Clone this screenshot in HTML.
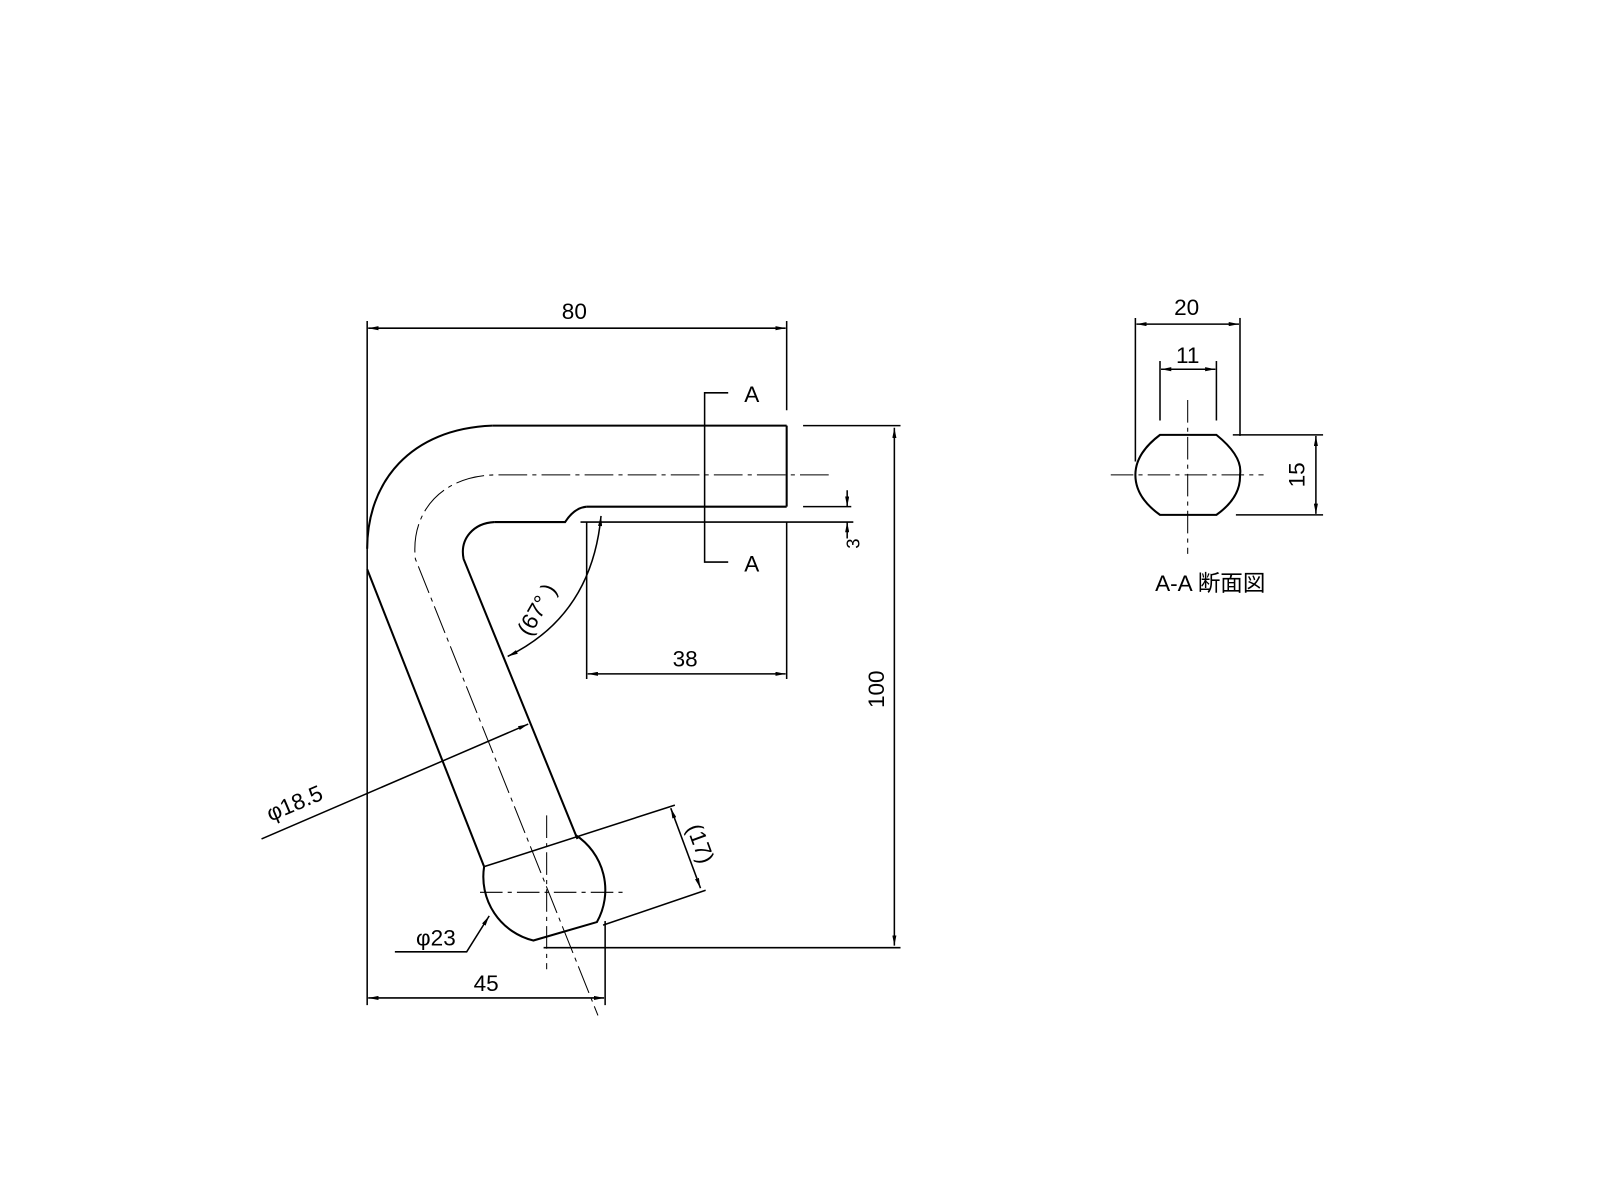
<!DOCTYPE html>
<html><head><meta charset="utf-8"><style>
html,body{margin:0;padding:0;background:#fff;}
svg{display:block;}
text{font-family:"Liberation Sans","Noto Sans CJK JP",sans-serif;fill:#000;}
</style></head><body>
<svg width="1600" height="1200" viewBox="0 0 1560 1170" xmlns="http://www.w3.org/2000/svg">
<defs>
<marker id="ar" viewBox="0 0 10 4" refX="10" refY="2" markerWidth="10" markerHeight="4" orient="auto-start-reverse" markerUnits="userSpaceOnUse"><path d="M0,0 L10,2 L0,4 z" fill="#000"/></marker>
</defs>
<g stroke="#000" fill="none" stroke-width="1.5">
<line x1="358" y1="313" x2="358" y2="980"/>
<line x1="767" y1="313" x2="767" y2="400"/>
<line x1="359" y1="320" x2="766" y2="320" marker-start="url(#ar)" marker-end="url(#ar)"/>
<polyline points="710,383 687,383 687,548 710,548"/>
<line x1="480" y1="415" x2="767" y2="415" stroke-width="2"/>
<line x1="783" y1="415" x2="878" y2="415"/>
<line x1="767" y1="415" x2="767" y2="494" stroke-width="2"/>
<line x1="572" y1="494" x2="767" y2="494" stroke-width="2"/>
<line x1="783" y1="494" x2="830" y2="494"/>
<path d="M572,494 Q560,495 551,509 L482,509" stroke-width="2"/>
<line x1="566" y1="509" x2="832" y2="509"/>
<line x1="826" y1="478" x2="826" y2="494" marker-end="url(#ar)"/>
<line x1="826" y1="525" x2="826" y2="509" marker-end="url(#ar)"/>
<path d="M480,415 C400,418 358,470 358,535" stroke-width="2"/>
<path d="M358,555 L472,845" stroke-width="2"/>
<path d="M482,509 C462,510 448,525 452,545 L563,818" stroke-width="2"/>
<path d="M808,463 L485,463 C430,463 400,500 405,545 L583,990" stroke-width="1" stroke-dasharray="28,5,4,5"/>
<line x1="572" y1="509" x2="572" y2="662"/>
<line x1="767" y1="509" x2="767" y2="662"/>
<line x1="573" y1="657" x2="766" y2="657" marker-start="url(#ar)" marker-end="url(#ar)"/>
<path d="M586,503 Q577,600 495,640" marker-start="url(#ar)" marker-end="url(#ar)"/>
<line x1="530" y1="924" x2="878" y2="924"/>
<line x1="872" y1="417" x2="872" y2="922" marker-start="url(#ar)" marker-end="url(#ar)"/>
<path d="M472,845 A64,64 0 0 0 520,917 L582,899 A64,64 0 0 0 561,814" stroke-width="2"/>
<line x1="472" y1="845" x2="658" y2="785" stroke-width="1.5"/>
<line x1="588" y1="902" x2="688" y2="868"/>
<line x1="590" y1="898" x2="590" y2="980"/>
<line x1="654" y1="788" x2="683" y2="866" marker-start="url(#ar)" marker-end="url(#ar)"/>
<line x1="468" y1="870" x2="612" y2="870" stroke-width="1" stroke-dasharray="22,5,4,5"/>
<line x1="533" y1="795" x2="533" y2="945" stroke-width="1" stroke-dasharray="22,5,4,5"/>
<line x1="359" y1="973" x2="589" y2="973" marker-start="url(#ar)" marker-end="url(#ar)"/>
<line x1="255" y1="818" x2="515" y2="706" marker-end="url(#ar)"/>
<polyline points="385,928 455,928 477,893" marker-end="url(#ar)"/>
<line x1="1107" y1="310" x2="1107" y2="450"/>
<line x1="1209" y1="310" x2="1209" y2="425"/>
<line x1="1108" y1="316" x2="1208" y2="316" marker-start="url(#ar)" marker-end="url(#ar)"/>
<line x1="1131" y1="352" x2="1131" y2="410"/>
<line x1="1186" y1="352" x2="1186" y2="410"/>
<line x1="1132" y1="360" x2="1185" y2="360" marker-start="url(#ar)" marker-end="url(#ar)"/>
<path d="M1131,424 L1186,424 Q1212,445 1209,463 Q1210,485 1186,502 L1131,502 Q1107,485 1107,463 Q1107,442 1131,424 Z" stroke-width="2"/>
<line x1="1083" y1="463" x2="1232" y2="463" stroke-width="1" stroke-dasharray="22,5,4,5"/>
<line x1="1158" y1="390" x2="1158" y2="540" stroke-width="1" stroke-dasharray="22,5,4,5"/>
<line x1="1202" y1="424" x2="1290" y2="424"/>
<line x1="1205" y1="502" x2="1290" y2="502"/>
<line x1="1283" y1="425" x2="1283" y2="501" marker-start="url(#ar)" marker-end="url(#ar)"/>
</g>
<g font-size="22">
<text x="560" y="311" text-anchor="middle">80</text>
<text x="733" y="392" text-anchor="middle">A</text>
<text x="733" y="557" text-anchor="middle">A</text>
<text x="668" y="650" text-anchor="middle">38</text>
<text x="474" y="966" text-anchor="middle">45</text>
<text x="425" y="922" text-anchor="middle">φ23</text>
<text transform="translate(290,790) rotate(-23)" text-anchor="middle">φ18.5</text>
<text transform="translate(530,598) rotate(-60)" text-anchor="middle">(67°  )</text>
<text transform="translate(862,672) rotate(-90)" text-anchor="middle">100</text>
<text transform="translate(838,530) rotate(-90)" text-anchor="middle" font-size="18">3</text>
<text transform="translate(676,825) rotate(70)" text-anchor="middle">(17)</text>
<text x="1157" y="307" text-anchor="middle">20</text>
<text x="1158" y="354" text-anchor="middle">11</text>
<text transform="translate(1272,463) rotate(-90)" text-anchor="middle">15</text>
<text x="1180" y="576" text-anchor="middle">A-A 断面図</text>
</g>
</svg>
</body></html>
